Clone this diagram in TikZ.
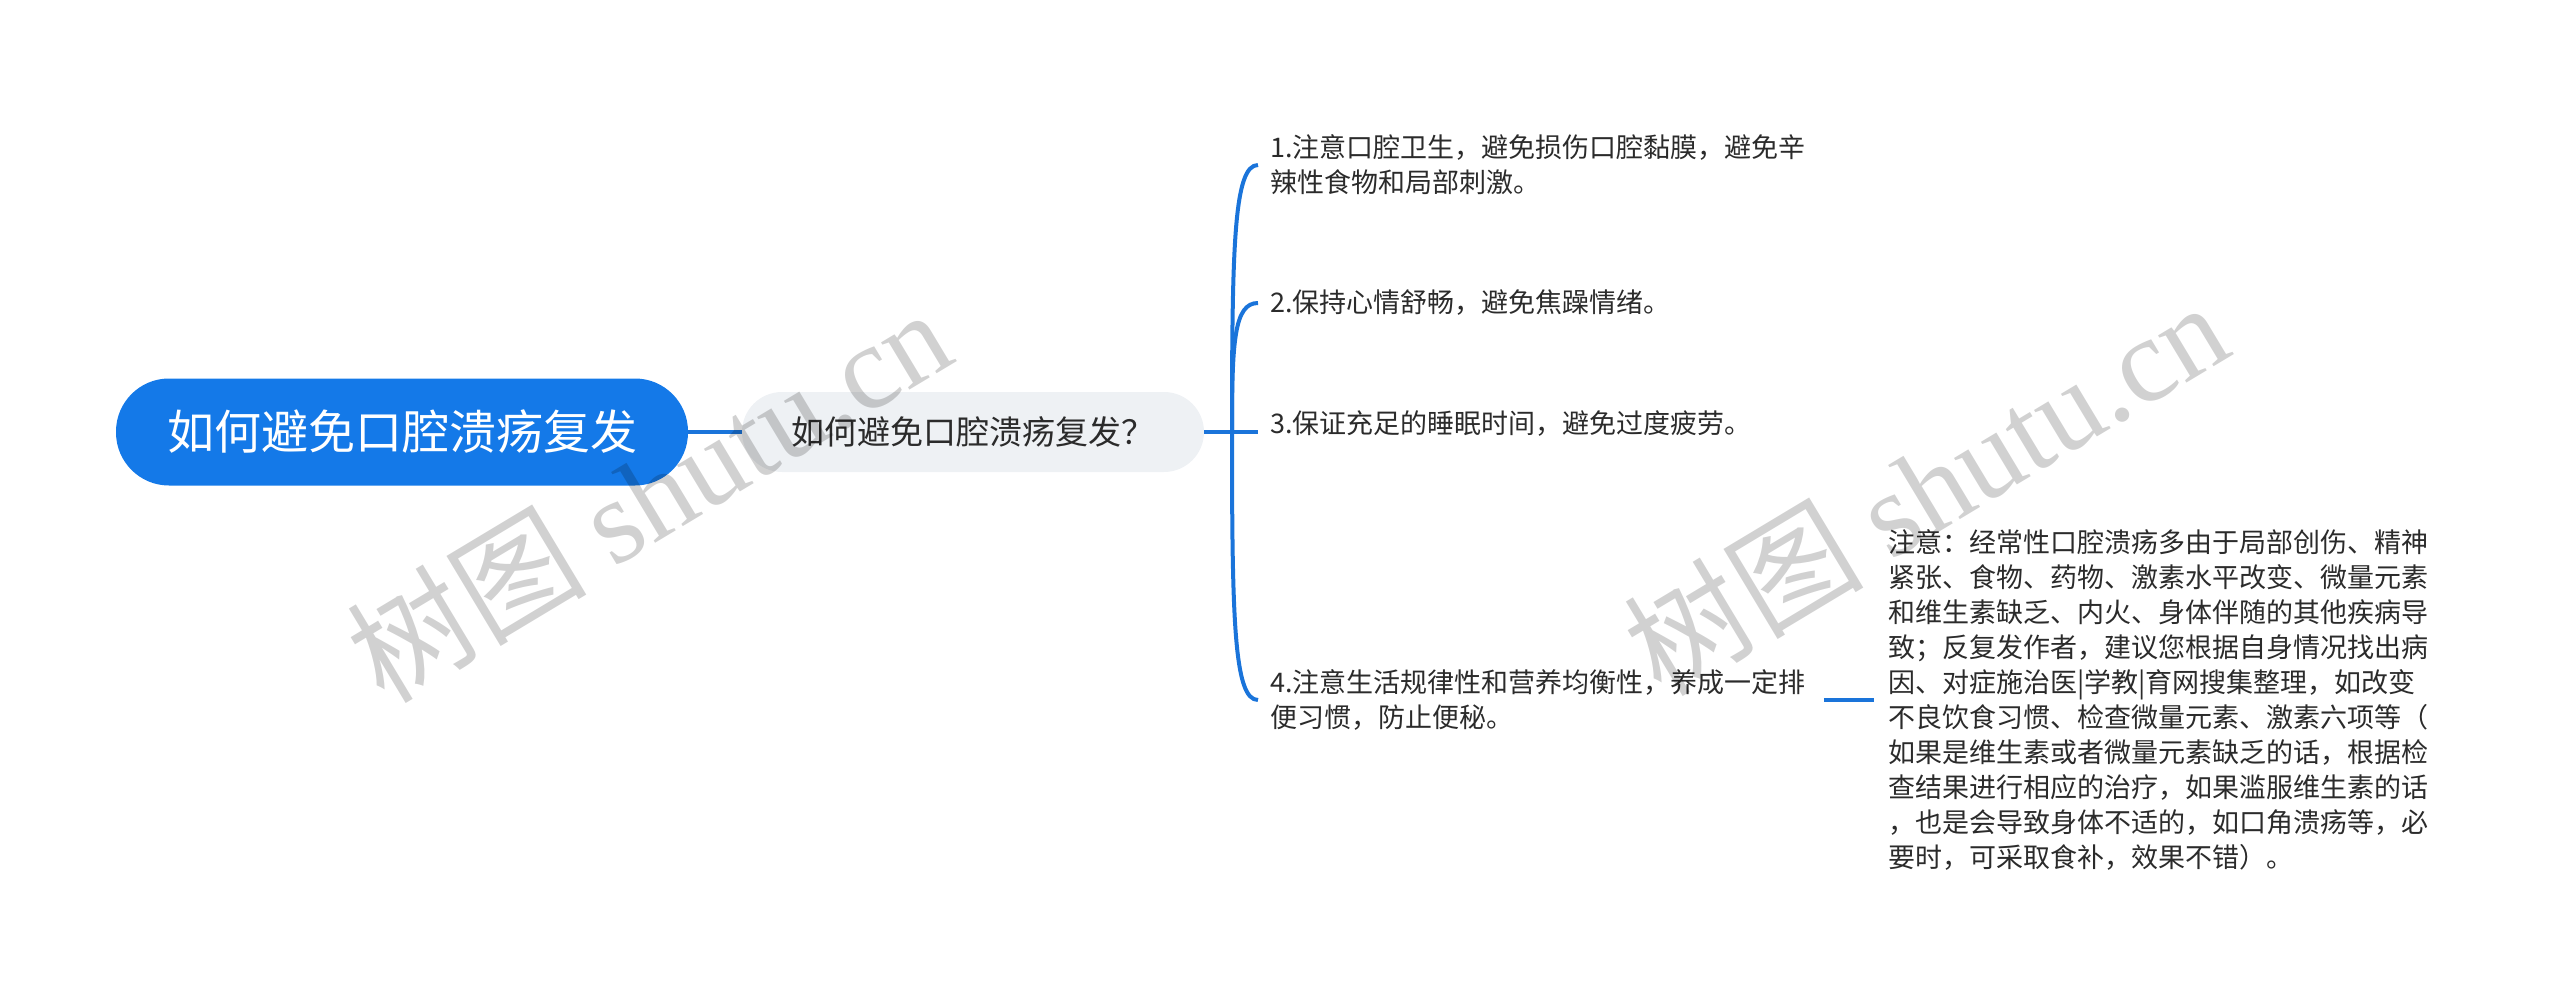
\documentclass[tikz,border=0pt]{standalone}
\usepackage{fontspec}
\setmainfont{Noto Sans CJK SC}
\newfontfamily\wmfont{Liberation Serif}
\usetikzlibrary{positioning}
\definecolor{rootblue}{HTML}{1479E8}
\definecolor{linkblue}{HTML}{1A74DA}
\definecolor{subgray}{HTML}{EEF1F4}
\definecolor{txtgray}{HTML}{2B2B2B}
\tikzset{
  rootbox/.style={fill=rootblue,rounded corners=53pt,minimum width=572pt,minimum height=107pt,
    text=white,font=\fontsize{47}{50}\selectfont},
  subbox/.style={fill=subgray,rounded corners=40pt,minimum width=462pt,minimum height=80pt,
    text=txtgray,font=\fontsize{33}{38}\selectfont},
  leaf/.style={align=left,inner sep=0pt,text=txtgray,font=\fontsize{27}{35}\selectfont},
  link/.style={draw=linkblue,line width=4pt},
  wmark/.style={text=black,text opacity=0.18,rotate=31,font=\fontsize{120}{120}\selectfont}
}
\begin{document}
\begin{tikzpicture}[x=1pt,y=-1pt]
	\useasboundingbox (0,0) rectangle (2560,1003);
	%root and first branch
	\node[rootbox] (root) at (402,432) {如何避免口腔溃疡复发};
	\node[subbox] (sub) at (973,432) {如何避免口腔溃疡复发？};
	\draw[link] (root.east) -- (sub.west);
	%junction and branch ends
	\coordinate (jn) at (1232,432);
	\coordinate (e1) at (1258,165);
	\coordinate (e2) at (1258,303);
	\coordinate (e3) at (1258,432);
	\coordinate (e4) at (1258,700);
	\draw[link] (sub.east) -- (jn);
	%leaves
	\node[leaf,right=12pt of e1,anchor=west] (i1) {1.注意口腔卫生，避免损伤口腔黏膜，避免辛\\辣性食物和局部刺激。};
	\node[leaf,right=12pt of e2,anchor=west] (i2) {2.保持心情舒畅，避免焦躁情绪。};
	\node[leaf,right=12pt of e3,anchor=west,yshift=8pt] (i3) {3.保证充足的睡眠时间，避免过度疲劳。};
	\node[leaf,right=12pt of e4,anchor=west] (i4) {4.注意生活规律性和营养均衡性，养成一定排\\便习惯，防止便秘。};
	%branches
	\draw[link] (jn) .. controls (1232,245) and (1234,165) .. (e1);
	\draw[link] (jn) .. controls (1232,342) and (1234,303) .. (e2);
	\draw[link] (jn) -- (e3);
	\draw[link] (jn) .. controls (1232,620) and (1234,700) .. (e4);
	%note
	\coordinate (ne) at (1874,700);
	\node[leaf,right=14pt of ne,anchor=west] (note) {注意：经常性口腔溃疡多由于局部创伤、精神\\
		紧张、食物、药物、激素水平改变、微量元素\\
		和维生素缺乏、内火、身体伴随的其他疾病导\\
		致；反复发作者，建议您根据自身情况找出病\\
		因、对症施治医|学教|育网搜集整理，如改变\\
		不良饮食习惯、检查微量元素、激素六项等（\\
		如果是维生素或者微量元素缺乏的话，根据检\\
		查结果进行相应的治疗，如果滥服维生素的话\\
		，也是会导致身体不适的，如口角溃疡等，必\\
		要时，可采取食补，效果不错）。};
	\draw[link] ([xshift=18pt]i4.east |- ne) -- (ne);
	%watermarks
	\node[wmark] (wm1) at (648,494) {树图 {\wmfont shutu.cn}};
	\node[wmark] (wm2) at (1925,487) {树图 {\wmfont shutu.cn}};
\end{tikzpicture}
\end{document}
